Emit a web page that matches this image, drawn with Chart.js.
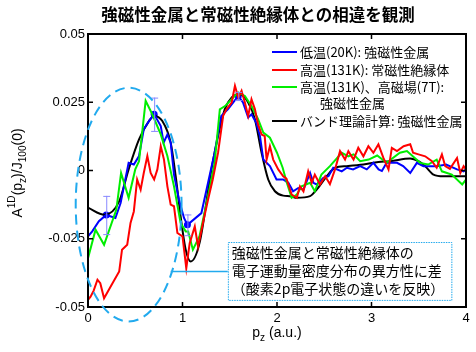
<!DOCTYPE html>
<html><head><meta charset="utf-8">
<script src="https://cdn.jsdelivr.net/npm/chart.js@4/dist/chart.umd.min.js"></script>
<style>html,body{margin:0;padding:0;background:#fff;}#wrap{width:476px;height:352px;}</style>
</head><body><div id="wrap"><canvas id="c" width="476" height="352"></canvas></div>
<script>
// ---- data ----
const xTickValues = [0,1,2,3,4];
const xTickLabels = ['0','1','2','3','4'];
const yTickValues = [-0.05,-0.025,0,0.025,0.05];
const yTickLabels = ['-0.05','-0.025','0','0.025','0.05'];

const seriesNames = ['低温(20K): 強磁性金属','高温(131K): 常磁性絶縁体','高温(131K)、高磁場(7T):','バンド理論計算: 強磁性金属'];
const greenNameLine2 = '強磁性金属';

const blueX = [0,0.045,0.115,0.193,0.29,0.345,0.43,0.485,0.54,0.59,0.645,0.70,0.77,0.80,0.84,0.875,0.91,0.963,1.016,1.052,1.20,1.34,1.41,1.48,1.535,1.59,1.64,1.695,1.73,1.78,1.82,1.855,1.925,1.995,2.065,2.12,2.17,2.225,2.28,2.35,2.385,2.42,2.49,2.545,2.595,2.685,2.74,2.805,2.88,2.95,3.02,3.075,3.11,3.16,3.27,3.335,3.41,3.48,3.55,3.69,3.79,3.905,3.975,4.0];
const blueY = [-0.0241,-0.0223,-0.0186,-0.0163,-0.0174,-0.0119,0.0028,0.0022,0.0053,0.0151,0.0181,0.0206,0.0163,0.0102,0.0132,0.0102,-0.0015,-0.0107,-0.0174,-0.0199,-0.0156,0.0065,0.0200,0.0224,0.0249,0.0273,0.0249,0.0194,0.0206,0.0175,0.0126,0.0040,0.0016,-0.0033,-0.0033,-0.0045,-0.0076,-0.0064,-0.0070,-0.0009,-0.0045,-0.0051,-0.0027,-0.0021,0.0010,-0.0003,0.0010,0.0004,0.0016,0.0004,0.0028,0.0004,-0.0002,0.0028,0.0028,0.0016,-0.0009,0.0028,0.0016,0.0016,0.0022,0.0004,-0.0003,0.0004];

const redX = [0,0.027,0.06,0.10,0.13,0.17,0.24,0.33,0.36,0.415,0.45,0.485,0.52,0.557,0.59,0.628,0.663,0.70,0.734,0.77,0.804,0.84,0.875,0.91,0.946,1.0,1.04,1.076,1.13,1.165,1.22,1.27,1.32,1.376,1.43,1.465,1.52,1.555,1.59,1.625,1.66,1.695,1.73,1.766,1.80,1.837,1.87,1.89,1.925,1.96,2.013,2.066,2.10,2.155,2.21,2.243,2.28,2.33,2.367,2.40,2.455,2.51,2.56,2.614,2.667,2.72,2.755,2.81,2.86,2.914,2.967,3.02,3.073,3.126,3.18,3.215,3.27,3.34,3.41,3.44,3.497,3.568,3.64,3.69,3.745,3.78,3.83,3.905,3.94,3.975,4.0];
const redY = [-0.0474,-0.0462,-0.0440,-0.0400,-0.0413,-0.0468,-0.0425,-0.0370,-0.0290,-0.0272,-0.0192,-0.0150,-0.0033,-0.0070,-0.0009,0.0053,-0.0009,-0.0033,0.0004,0.0089,0.0040,-0.0058,-0.0125,-0.0131,-0.0229,-0.0241,-0.0358,-0.0266,-0.0205,-0.0279,-0.0186,-0.0107,-0.0033,0.0065,0.0200,0.0224,0.0249,0.0310,0.0267,0.0292,0.0249,0.0200,0.0261,0.0225,0.0169,0.0132,0.0126,0.0040,0.0089,0.0040,0.0004,-0.0021,-0.0030,-0.0088,-0.0100,-0.0058,-0.0076,-0.0003,-0.0045,-0.0015,-0.0051,-0.0021,-0.0050,0.0004,0.0071,0.0040,0.0071,0.0040,0.0083,0.0052,0.0089,0.0065,0.0096,0.0046,0.0004,0.0083,0.0071,0.0089,0.0096,0.0065,0.0059,0.0052,0.0034,0.0010,0.0059,0.0016,0.0006,0.0046,-0.0009,0.0016,0.0004];

const greenX = [0,0.08,0.17,0.30,0.35,0.43,0.50,0.54,0.61,0.68,0.77,0.84,0.91,0.98,1.034,1.06,1.11,1.18,1.27,1.34,1.395,1.45,1.52,1.59,1.66,1.73,1.80,1.855,1.925,2.0,2.06,2.10,2.155,2.21,2.26,2.35,2.40,2.47,2.56,2.685,2.755,2.81,2.88,2.97,3.06,3.16,3.30,3.375,3.515,3.60,3.69,3.745,3.85,3.96,4.0];
const greenY = [-0.0321,-0.0217,-0.0272,-0.0143,-0.0009,-0.0100,0.0004,0.0034,0.0255,0.0206,0.0132,0.0053,-0.0058,-0.0192,-0.0223,-0.0223,-0.0290,-0.0241,-0.0094,0.0028,0.0224,0.0236,0.0261,0.0286,0.0273,0.0236,0.0188,0.0139,0.0120,0.0065,0.0010,-0.0040,-0.0100,-0.0088,-0.0058,-0.0045,-0.0076,-0.0015,0.0016,0.0065,0.0052,0.0059,0.0034,0.0040,0.0055,0.0028,0.0065,0.0071,0.0028,0.0022,0.0040,-0.0003,-0.0015,-0.0051,-0.0033];

const blackX = [0,0.175,0.33,0.43,0.54,0.645,0.70,0.787,0.875,0.928,0.98,1.034,1.087,1.18,1.306,1.376,1.447,1.519,1.607,1.695,1.766,1.837,1.907,1.978,2.066,2.137,2.21,2.35,2.42,2.526,2.614,2.738,2.914,3.073,3.197,3.409,3.497,3.568,3.656,3.762,4.0];
const blackY = [-0.0136,-0.0162,-0.0113,0.0004,0.0114,0.0181,0.0200,0.0181,0.0102,-0.0021,-0.0168,-0.0290,-0.0333,-0.0266,0.0004,0.0126,0.0224,0.0267,0.0279,0.0249,0.0188,0.0065,-0.0033,-0.0076,-0.0092,-0.0094,-0.0100,-0.0094,-0.0070,-0.0021,0.0010,0.0016,0.0022,0.0031,0.0034,0.0044,0.0034,0.0016,-0.0015,-0.0021,-0.0021];

// error-bar points on the 20K curve
const errX = [0.193,0.70,1.052,1.59];
const errY = [-0.0163,0.0206,-0.0199,0.0273];
const errD = [0.0070,0.0061,0.0038,0.0015];

// annotation (data units)
const ellipseC = {x:0.43, y:-0.0125}, ellipseR = {x:0.56, y:0.0428};
const boxX = [1.48, 3.845], boxY = [-0.0262, -0.0474];
const connectorX = [0.875, 1.48], connectorY = -0.0370;
const noteLines = ['強磁性金属と常磁性絶縁体の','電子運動量密度分布の異方性に差','（酸素2p電子状態の違いを反映）'];
const titleText = '強磁性金属と常磁性絶縁体との相違を観測';

const COLORS = {blue:'#0000ff', red:'#ff0000', green:'#00ee00', black:'#000000', cyan:'#22aaee', err:'#8888ff'};
const pts = (xs, ys) => xs.map((x,i)=>({x, y:ys[i]}));

const CJK = '"Noto Sans CJK JP", "Liberation Sans", sans-serif';
const SANS = '"Liberation Sans", Arial, sans-serif';

function richText(ctx, segs, x, y, rot, size){
  ctx.save();
  ctx.translate(x,y); ctx.rotate(rot);
  ctx.textBaseline = 'middle'; ctx.textAlign = 'left'; ctx.fillStyle = '#000';
  let total = 0;
  segs.forEach(s=>{ ctx.font = (s.s ? size*0.72 : size) + 'px ' + SANS; s.w = ctx.measureText(s.t).width; total += s.w; });
  let cx = -total/2;
  segs.forEach(s=>{
    ctx.font = (s.s ? size*0.72 : size) + 'px ' + SANS;
    const dy = s.s === 'sup' ? -size*0.42 : (s.s === 'sub' ? size*0.38 : 0);
    ctx.fillText(s.t, cx, dy); cx += s.w;
  });
  ctx.restore();
}

const decor = {
  id:'decor',
  beforeDraw(chart){
    const c = chart.ctx; c.save(); c.fillStyle='#fff'; c.fillRect(0,0,chart.width,chart.height); c.restore();
  },
  afterDatasetsDraw(chart){
    const {ctx, scales:{x, y}} = chart;
    ctx.save();
    ctx.strokeStyle = COLORS.err; ctx.lineWidth = 1;
    errX.forEach((ex,i)=>{
      const px = x.getPixelForValue(ex);
      const p1 = y.getPixelForValue(errY[i]+errD[i]), p2 = y.getPixelForValue(errY[i]-errD[i]);
      ctx.beginPath();
      ctx.moveTo(px+0.5,p1); ctx.lineTo(px+0.5,p2);
      ctx.moveTo(px-3,p1+0.5); ctx.lineTo(px+4,p1+0.5);
      ctx.moveTo(px-3,p2+0.5); ctx.lineTo(px+4,p2+0.5);
      ctx.stroke();
    });
    ctx.restore();
  },
  afterDraw(chart){
    const {ctx, chartArea:a, scales:{x, y}} = chart;
    ctx.save();
    // frame
    ctx.strokeStyle = '#000'; ctx.lineWidth = 2;
    ctx.strokeRect(a.left, a.top, a.right-a.left, a.bottom-a.top);
    ctx.lineWidth = 1.5;
    ctx.beginPath();
    xTickValues.forEach(v=>{ const px = x.getPixelForValue(v);
      ctx.moveTo(px,a.bottom); ctx.lineTo(px,a.bottom-5); ctx.moveTo(px,a.top); ctx.lineTo(px,a.top+5); });
    yTickValues.forEach(v=>{ const py = y.getPixelForValue(v);
      ctx.moveTo(a.left,py); ctx.lineTo(a.left+5,py); ctx.moveTo(a.right,py); ctx.lineTo(a.right-5,py); });
    ctx.stroke();

    // title
    ctx.fillStyle = '#000'; ctx.textBaseline = 'middle'; ctx.textAlign = 'center';
    ctx.font = 'bold 16.5px ' + CJK;
    ctx.fillText(titleText, 258, 15);

    // axis titles
    richText(ctx, [{t:'p'},{t:'z',s:'sub'},{t:' (a.u.)'}], (a.left+a.right)/2, 333, 0, 14);
    richText(ctx, [{t:'A'},{t:'1D',s:'sup'},{t:'(p'},{t:'z',s:'sub'},{t:')/J'},{t:'100',s:'sub'},{t:'(0)'}], 18, 173, -Math.PI/2, 14);

    // dashed ellipse
    const ecx = x.getPixelForValue(ellipseC.x), ecy = y.getPixelForValue(ellipseC.y);
    const erx = x.getPixelForValue(ellipseC.x+ellipseR.x) - ecx;
    const ery = ecy - y.getPixelForValue(ellipseC.y+ellipseR.y);
    ctx.strokeStyle = COLORS.cyan; ctx.lineWidth = 2; ctx.setLineDash([10,6]);
    ctx.beginPath(); ctx.ellipse(ecx, ecy, erx, ery, 0, 0, Math.PI*2); ctx.stroke();
    ctx.setLineDash([]);

    // connector + note box
    const cy = y.getPixelForValue(connectorY);
    ctx.lineWidth = 1.5;
    ctx.beginPath(); ctx.moveTo(x.getPixelForValue(connectorX[0]), cy); ctx.lineTo(x.getPixelForValue(connectorX[1]), cy); ctx.stroke();
    const bx1 = x.getPixelForValue(boxX[0]), bx2 = x.getPixelForValue(boxX[1]);
    const by1 = y.getPixelForValue(boxY[0]), by2 = y.getPixelForValue(boxY[1]);
    ctx.fillStyle = '#fff'; ctx.fillRect(bx1, by1, bx2-bx1, by2-by1);
    ctx.lineWidth = 1; ctx.setLineDash([1.5,1]);
    ctx.strokeRect(bx1+0.5, by1+0.5, bx2-bx1, by2-by1);
    ctx.setLineDash([]);
    ctx.fillStyle = '#000'; ctx.textAlign = 'left'; ctx.textBaseline = 'middle';
    ctx.font = '14px ' + CJK;
    noteLines.forEach((t,i)=> ctx.fillText(t, bx1+4, by1 + 11 + i*18));

    // legend
    const legendItems = [
      {c:COLORS.blue, t:seriesNames[0], y:52},
      {c:COLORS.red, t:seriesNames[1], y:70},
      {c:COLORS.green, t:seriesNames[2], y:87},
      {c:COLORS.black, t:seriesNames[3], y:121}
    ];
    ctx.font = '13px ' + CJK;
    legendItems.forEach(it=>{
      ctx.strokeStyle = it.c; ctx.lineWidth = 2;
      ctx.beginPath(); ctx.moveTo(272, it.y); ctx.lineTo(297, it.y); ctx.stroke();
      ctx.fillStyle = '#000'; ctx.fillText(it.t, 300, it.y);
    });
    ctx.fillText(greenNameLine2, 320, 103);
    ctx.restore();
  }
};

Chart.defaults.font.family = SANS;
Chart.defaults.font.size = 13;
Chart.defaults.color = '#000';

const lineDs = (label, xs, ys, color, extra) => Object.assign({
  label, data: pts(xs, ys), showLine: true, borderColor: color, backgroundColor: color,
  borderWidth: 2, pointRadius: 0, tension: 0, fill: false
}, extra || {});

new Chart(document.getElementById('c'), {
  type: 'scatter',
  data: { datasets: [
    lineDs(seriesNames[1], redX, redY, COLORS.red),
    lineDs(seriesNames[2], greenX, greenY, COLORS.green),
    lineDs(seriesNames[0], blueX, blueY, COLORS.blue),
    lineDs(seriesNames[3], blackX, blackY, COLORS.black, {cubicInterpolationMode:'monotone'}),
    {label:'markers', data: pts(errX, errY), showLine:false, pointRadius:3.5, pointStyle:'circle',
     backgroundColor: COLORS.blue, borderColor: COLORS.blue, borderWidth:0}
  ]},
  options: {
    responsive: false, animation: false, devicePixelRatio: 1,
    layout: { padding: { left: 0, right: 10, top: 34, bottom: 0 } },
    plugins: { legend: { display: false }, tooltip: { enabled: false }, title: { display: false } },
    scales: {
      x: { type: 'linear', min: 0, max: 4,
        afterBuildTicks: s => { s.ticks = xTickValues.map(v=>({value:v})); },
        ticks: { callback: (v,i) => xTickLabels[i], padding: 4, maxRotation: 0, font:{size:13} },
        grid: { display: false, drawTicks: false }, border: { display: false },
        afterFit: s => { s.height = 45; } },
      y: { type: 'linear', min: -0.05, max: 0.05,
        afterBuildTicks: s => { s.ticks = yTickValues.map(v=>({value:v})); },
        ticks: { callback: (v,i) => yTickLabels[i], padding: 3, font:{size:13} },
        grid: { display: false, drawTicks: false }, border: { display: false },
        afterFit: s => { s.width = 88; } }
    }
  },
  plugins: [decor]
});
</script></body></html>
